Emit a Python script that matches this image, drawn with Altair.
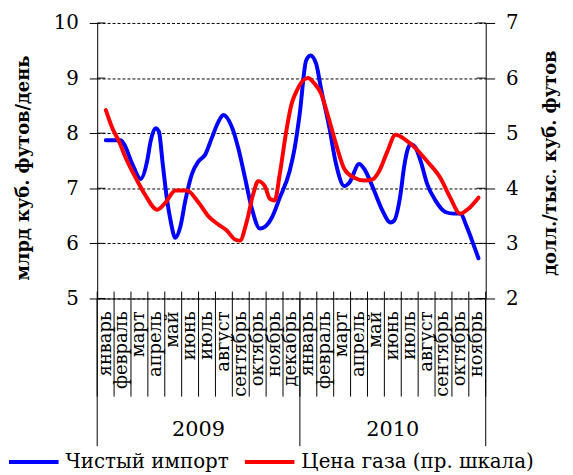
import altair as alt
import pandas as pd

FONT = "DejaVu Serif"

# --- data ---------------------------------------------------------------
month_names = ["январь", "февраль", "март", "апрель", "май", "июнь", "июль",
               "август", "сентябрь", "октябрь", "ноябрь", "декабрь"]
month_labels = month_names + month_names[:11]          # Jan 2009 .. Nov 2010
years = ["2009", "2010"]
year_month_counts = [12, 11]

series_names = ["Чистый импорт", "Цена газа (пр. шкала)"]

# months elapsed since start of January 2009
imp_t = [0.51, 1.39, 1.59, 2.08, 2.57, 2.96, 3.16, 3.45, 3.65, 3.88, 4.14, 4.34,
         4.63, 4.92, 5.22, 5.61, 6.0, 6.39, 6.78, 7.18, 7.47, 7.96, 8.35, 8.75,
         9.14, 9.63, 9.92, 10.31, 10.81, 11.39, 11.69, 11.98, 12.37, 12.63,
         12.96, 13.25, 13.75, 14.14, 14.63, 14.92, 15.51, 15.81, 16.39, 16.88,
         17.37, 17.57, 17.96, 18.16, 18.55, 18.84, 19.14, 19.53, 20.02, 20.61,
         21.10, 21.49, 21.88, 22.18, 22.57]
imp_v = [7.87, 7.87, 7.80, 7.44, 7.17, 7.50, 7.85, 8.09, 8.03, 7.44, 6.78, 6.42,
         6.10, 6.30, 6.78, 7.26, 7.49, 7.61, 7.91, 8.21, 8.33, 8.12, 7.73, 7.19,
         6.65, 6.27, 6.30, 6.45, 6.83, 7.31, 7.73, 8.33, 9.32, 9.41,
         9.26, 8.81, 8.09, 7.44, 7.04, 7.10, 7.44, 7.35, 6.96, 6.60,
         6.38, 6.41, 6.90, 7.37, 7.80, 7.74, 7.50, 7.08, 6.78, 6.57,
         6.54, 6.54, 6.30, 6.06, 5.73]

gas_t = [0.51, 0.90, 1.29, 1.69, 2.28, 2.86, 3.55, 4.04, 4.63, 5.31, 6.0, 6.59,
         7.18, 7.66, 8.16, 8.45, 8.84, 9.24, 9.53, 9.92, 10.22, 10.51, 10.81,
         11.19, 11.49, 11.78, 12.47, 12.86, 13.25, 13.65, 14.14, 14.63, 15.22,
         15.81, 16.29, 16.69, 17.18, 17.66, 18.25, 18.84, 19.53, 20.31, 20.90,
         21.49, 21.98, 22.57]
gas_v = [5.42, 5.09, 4.85, 4.55, 4.19, 3.87, 3.61, 3.74, 3.96, 3.96, 3.74, 3.49,
         3.34, 3.24, 3.07, 3.05, 3.38, 3.90, 4.13, 4.04, 3.81, 3.78, 4.26,
         5.03, 5.51, 5.75, 6.00, 5.90, 5.72, 5.33, 4.80, 4.35, 4.19,
         4.14, 4.16, 4.31, 4.67, 4.97, 4.88, 4.73, 4.49, 4.19, 3.83,
         3.54, 3.63, 3.83]

left_ticks = [5, 6, 7, 8, 9, 10]
right_ticks = [2, 3, 4, 5, 6, 7]

# --- tables ---------------------------------------------------------------
n_months = len(month_labels)
imp_df = pd.DataFrame({"t": imp_t, "v": imp_v, "s": series_names[0]})
gas_df = pd.DataFrame({"t": gas_t, "v": gas_v, "s": series_names[1]})
lt_df = pd.DataFrame({"v": left_ticks})
rt_df = pd.DataFrame({"v": right_ticks})
lab_df = pd.DataFrame({"c": [i + 0.5 for i in range(n_months)], "m": month_labels})
bnd_df = pd.DataFrame({"b": list(range(n_months + 1))})
ystarts = [sum(year_month_counts[:i]) for i in range(len(years))]
yr_df = pd.DataFrame({"c": [s + n / 2 for s, n in zip(ystarts, year_month_counts)],
                      "y": years})
ybnd_df = pd.DataFrame({"b": ystarts + [n_months]})

xscale = alt.Scale(domain=[0, n_months], nice=False, zero=False)
xaxis = alt.Axis(ticks=False, labels=False, grid=False, domain=True,
                 domainColor="black", domainWidth=1, title=None)

def X(field):
    return alt.X(field, type="quantitative", scale=xscale, axis=xaxis)

color = alt.Color("s:N", scale=alt.Scale(domain=series_names,
                                         range=["#0000ff", "#ff0000"]),
                  legend=alt.Legend(title=None, orient="none", legendX=-91,
                                    legendY=416, direction="horizontal",
                                    columns=2, symbolType="stroke",
                                    symbolSize=2500, symbolStrokeWidth=4,
                                    labelFont=FONT, labelFontSize=20,
                                    labelColor="black", labelOffset=5,
                                    labelLimit=400, columnPadding=8))

left_axis = alt.Axis(values=left_ticks, format="d", tickSize=8, tickColor="black",
                     domainColor="black", labelFont=FONT, labelFontSize=20,
                     labelColor="black", labelPadding=11, grid=True,
                     gridColor="black", gridDash=[3, 2], gridWidth=1,
                     gridOpacity=1,
                     title="млрд куб. футов/день", titleFont=FONT,
                     titleFontSize=18, titleFontWeight="bold", titleColor="black",
                     titleAngle=270, titleX=-74, titleY=146,
                     titleAlign="center", titleBaseline="middle")
right_axis = alt.Axis(values=right_ticks, format="d", tickSize=9, tickColor="black",
                      domainColor="black", labelFont=FONT, labelFontSize=20,
                      labelColor="black", labelPadding=11, grid=False,
                      orient="right",
                      title="долл./тыс. куб. футов", titleFont=FONT,
                      titleFontSize=18, titleFontWeight="bold", titleColor="black",
                      titleAngle=270, titleX=65, titleY=141,
                      titleAlign="center", titleBaseline="middle")

lscale = alt.Scale(domain=[5, 10], nice=False, zero=False)
rscale = alt.Scale(domain=[2, 7], nice=False, zero=False)

blue = alt.Chart(imp_df).mark_line(strokeWidth=4, interpolate="monotone",
                                   strokeCap="round", strokeJoin="round").encode(
    x=X("t"), y=alt.Y("v:Q", scale=lscale, axis=left_axis), color=color)
lt_inner = alt.Chart(lt_df).mark_rule(color="black", strokeWidth=1).encode(
    y=alt.Y("v:Q", scale=lscale, axis=left_axis),
    x=alt.value(0), x2=alt.value(8))
left_group = alt.layer(lt_inner, blue)

red = alt.Chart(gas_df).mark_line(strokeWidth=4, interpolate="monotone",
                                  strokeCap="round", strokeJoin="round").encode(
    x=X("t"), y=alt.Y("v:Q", scale=rscale, axis=right_axis), color=color)
rt_inner = alt.Chart(rt_df).mark_rule(color="black", strokeWidth=1).encode(
    y=alt.Y("v:Q", scale=rscale, axis=right_axis),
    x=alt.value(383), x2=alt.value(392))
right_group = alt.layer(rt_inner, red)

up_ticks = alt.Chart(bnd_df).mark_rule(color="black", strokeWidth=1).encode(
    x=X("b:Q"), y=alt.value(271), y2=alt.value(278))
month_seps = alt.Chart(bnd_df).mark_rule(color="black", strokeWidth=1).encode(
    x=X("b:Q"), y=alt.value(278), y2=alt.value(377))
year_seps = alt.Chart(ybnd_df).mark_rule(color="black", strokeWidth=1).encode(
    x=X("b:Q"), y=alt.value(278), y2=alt.value(427))
month_text = alt.Chart(lab_df).mark_text(angle=270, align="right", baseline="middle",
                                         font=FONT, fontSize=18, color="black").encode(
    x=X("c:Q"), y=alt.value(291), text="m:N")
year_text = alt.Chart(yr_df).mark_text(align="center", baseline="middle",
                                       font=FONT, fontSize=21, color="black").encode(
    x=X("c:Q"), y=alt.value(411), text="y:N")

chart = alt.layer(
    alt.layer(up_ticks, month_seps, year_seps, month_text, year_text),
    left_group, right_group
).resolve_scale(y="independent").properties(
    width=392, height=278,
    autosize=alt.AutoSizeParams(type="none"),
    padding={"left": 90, "top": 13, "right": 80, "bottom": 176},
    background="white",
).configure_view(stroke=None)

chart.save("out.html", embed_options={"renderer": "svg", "actions": False})
